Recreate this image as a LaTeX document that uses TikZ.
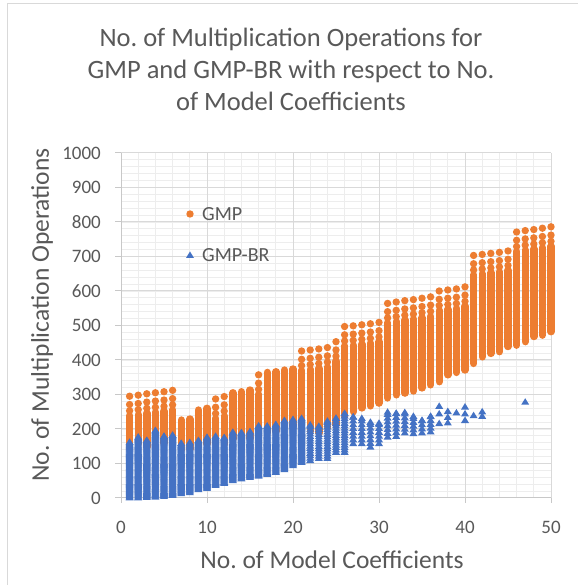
\documentclass[tikz,border=0pt]{standalone}
\usepackage{fontspec}
\setmainfont{Carlito}
\frenchspacing
\definecolor{gmpc}{HTML}{ED7D31}
\definecolor{gbrc}{HTML}{4472C4}
\definecolor{txtc}{HTML}{595959}
\definecolor{majg}{HTML}{D9D9D9}
\definecolor{ming}{HTML}{EDEDED}
\definecolor{axc}{HTML}{C8C8C8}
\definecolor{framec}{HTML}{D9D9D9}
\newcommand\gbrtri[2]{\fill[gbrc] (#1,#2) +(0pt,3.5pt) -- +(-4pt,-3pt) -- +(4pt,-3pt) -- cycle;}
\newcommand\gmpdot[2]{\fill[gmpc] (#1,#2) circle[radius=3.7pt];}
\begin{document}
\begin{tikzpicture}[x=1pt,y=1pt,
  lbl/.style={text=txtc,inner sep=0pt},
  ttl/.style={lbl,font=\fontsize{26.5}{30}\selectfont},
  axt/.style={lbl,font=\fontsize{25.5}{30}\selectfont},
  tck/.style={lbl,font=\fontsize{19}{22}\selectfont},
  lgt/.style={lbl,font=\fontsize{20}{24}\selectfont},
  mingrid/.style={draw=ming,line width=0.9pt},
  majgrid/.style={draw=majg,line width=1pt},
  axisline/.style={draw=axc,line width=1pt},
  gmpcol/.style={draw=gmpc,line width=7.4pt,line cap=round}]
\useasboundingbox (0,0) rectangle (578,585);
\fill[white] (0,0) rectangle (578,585);
\draw[framec,line width=1pt] (7,0) -- (7,581) -- (578,581);
% titles
\node[ttl,anchor=base] (t1) at (291,538) {No. of Multiplication Operations for};
\node[ttl,anchor=base] (t2) at (291,506) {GMP and GMP-BR with respect to No.};
\node[ttl,anchor=base] (t3) at (291,474) {of Model Coefficients};
\begin{scope}[shift={(121,87)},x=8.6pt,y=0.345pt]
  % minor grid
  \foreach \i in {2,4,6,8,12,14,16,18,22,24,26,28,32,34,36,38,42,44,46,48}
    \draw[mingrid] (\i,0) -- (\i,1000);
  \foreach \j in {20,40,...,980}
    \draw[mingrid] (0,\j) -- (50,\j);
  % major grid
  \foreach \i in {10,20,...,50}
    \draw[majgrid] (\i,0) -- (\i,1000);
  \foreach \j in {100,200,...,1000}
    \draw[majgrid] (0,\j) -- (50,\j);
  % axes
  \draw[axisline] (0,0) -- (50,0);
  \draw[axisline] (0,0) -- (0,1000);
  \foreach \i in {0,10,...,50}
    \draw[axisline] (\i,0) -- ++(0pt,-5pt);
  \foreach \j in {0,100,...,1000}
    \draw[axisline] (0,\j) -- ++(-6pt,0pt);
  % tick labels
  \foreach \j in {0,100,...,1000}
    \node[tck,anchor=east] (yl\j) at ([xshift=-20pt]0,\j) {\j};
  \foreach \i in {0,10,...,50}
    \node[tck] (xl\i) at ([yshift=-29pt]\i,0) {\i};
  % GMP series
  \foreach \n/\ot/\ob/\fl in {1/295/143/1,2/298/158/1,3/302/148/1,4/305/177/1,5/308/160/1,6/312/163/1,
      7/226/140/0,8/229/142/0,9/255/148/0,10/260/157/0,11/287/160/1,12/294/156/1,13/305/172/0,
      14/308/171/0,15/313/173/0,16/357/190/1,17/364/190/0,18/366/194/0,19/371/206/0,20/374/209/0,
      21/426/212/1,22/429/193/1,23/432/189/1,24/436/204/1,25/453/212/1,26/497/236/1,27/499/250/1,
      28/502/261/1,29/505/267/1,30/509/275/1,31/564/290/1,32/568/299/1,33/572/304/1,34/575/310/1,
      35/579/319/1,36/583/328/1,37/600/337/1,38/603/357/1,39/606/364/1,40/612/371/1,41/703/390/1,
      42/706/409/1,43/709/419/1,44/712/424/1,45/716/439/1,46/771/443/1,47/775/453/1,48/778/468/1,
      49/782/472/1,50/786/482/1}{
    \ifnum\fl=1
      \pgfmathsetmacro\ctop{\ot-56}
      \draw[gmpcol] (\n,\ob) -- (\n,\ctop);
      \pgfmathsetmacro\da{\ot-24}
      \pgfmathsetmacro\db{\ot-42}
      \gmpdot{\n}{\ot}
      \gmpdot{\n}{\da}
      \gmpdot{\n}{\db}
    \else
      \draw[gmpcol] (\n,\ob) -- (\n,\ot);
    \fi
  }
  % GMP-BR series
  \foreach \n/\lo/\hi/\st in {1/2/163/3,2/2/178/3,3/3/168/3,4/4/197/3,5/6/180/3,6/9/183/3,
      7/14/160/3,8/17/162/3,9/26/168/3,10/29/177/3,11/38/180/3,12/44/176/3,13/52/192/3,
      14/57/191/3,15/61/193/3,16/65/210/3,17/70/210/3,18/76/214/3,19/84/226/3,20/95/229/3,
      21/105/232/3,22/110/213/7,23/116/209/7,24/116/224/7,25/134/232/7,26/134/246/7,
      27/159/236/11,28/159/232/11,29/149/221/11,30/159/218/11,31/178/250/11,32/180/247/11,
      33/190/249/11,34/188/238/11,35/190/226/12,36/193/238/11}{
    \pgfmathsetmacro\nx{\lo+\st}
    \foreach \v in {\lo,\nx,...,\hi} {\gbrtri{\n}{\v}}
    \gbrtri{\n}{\hi}
  }
  \foreach \n/\v in {37/217,37/245,37/267,38/219,38/235,38/252,39/248,40/226,40/245,40/265,
      41/240,42/238,42/251,47/279}
    {\gbrtri{\n}{\v}}
\end{scope}
% axis titles
\node[axt] (xt) at (332,25) {No. of Model Coefficients};
\node[axt,rotate=90] (yt) at (42,270) {No. of Multiplication Operations};
% legend
\fill[gmpc] (190,371) circle[radius=3.7pt];
\node[lgt,anchor=west] (lg1) at (202,371) {GMP};
\fill[gbrc] (190,330) +(0pt,3.5pt) -- +(-4pt,-3pt) -- +(4pt,-3pt) -- cycle;
\node[lgt,anchor=west] (lg2) at (202,330) {GMP-BR};
\end{tikzpicture}
\end{document}
